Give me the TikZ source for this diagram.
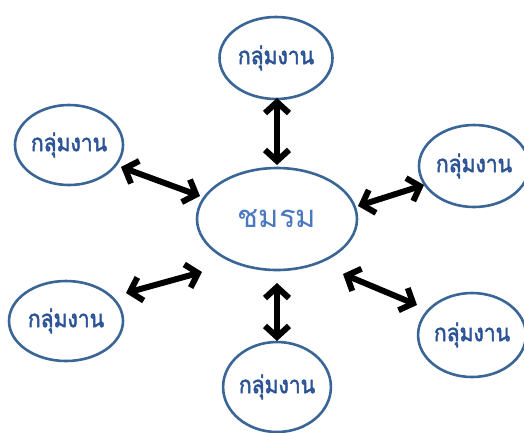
\documentclass[tikz,border=0pt]{standalone}
\usepackage{fontspec}
\newfontfamily\thaifont[Script=Thai]{Loma}
\newfontfamily\thaibold[Script=Thai,FakeStretch=0.88,FakeBold=2]{Loma}
\usetikzlibrary{shapes.geometric,arrows.meta}
\definecolor{ringblue}{HTML}{3A6597}
\definecolor{labelblue}{HTML}{2B5396}
\definecolor{mainblue}{HTML}{4A78C0}
\tikzset{
  ring/.style={ellipse, draw=ringblue, line width=2.6pt, fill=white, inner sep=0pt, outer sep=0pt},
  sat/.style={ring, text=labelblue, font=\thaibold\fontsize{24}{28}\selectfont},
  link/.style={line width=6pt, black, {Straight Barb[length=11pt,width=24pt]}-{Straight Barb[length=11pt,width=24pt]}, line join=round, line cap=round}
}
\begin{document}
\begin{tikzpicture}[x=1pt,y=-1pt]
\useasboundingbox (0,0) rectangle (524,432);
\node[ring, minimum width=160pt, minimum height=102pt, text=mainblue, font=\thaifont\fontsize{31}{34}\selectfont] (c) at (277,219) {ชมรม};
\node[sat, minimum width=113pt, minimum height=82pt] (t) at (276,58) {กลุ่มงาน};
\node[sat, minimum width=108pt, minimum height=80pt] (ul) at (69,145) {กลุ่มงาน};
\node[sat, minimum width=110pt, minimum height=82pt] (r) at (474,166) {กลุ่มงาน};
\node[sat, minimum width=114pt, minimum height=80pt] (ll) at (66,321) {กลุ่มงาน};
\node[sat, minimum width=106pt, minimum height=84pt] (lr) at (472,335) {กลุ่มงาน};
\node[sat, minimum width=106pt, minimum height=90pt] (b) at (277,387) {กลุ่มงาน};
% arrow end points
\coordinate (t1) at (277,98);   \coordinate (t2) at (277,165);
\coordinate (ul1) at (121,167); \coordinate (ul2) at (200,196);
\coordinate (r1) at (424,185);  \coordinate (r2) at (358,206);
\coordinate (ll1) at (126,293); \coordinate (ll2) at (202,272);
\coordinate (lr1) at (417,305); \coordinate (lr2) at (343,274);
\coordinate (b1) at (277,283);  \coordinate (b2) at (277,341);
\draw[link] (t1) -- (t2);
\draw[link] (ul1) -- (ul2);
\draw[link] (r1) -- (r2);
\draw[link] (ll1) -- (ll2);
\draw[link] (lr1) -- (lr2);
\draw[link] (b1) -- (b2);
\end{tikzpicture}
\end{document}
